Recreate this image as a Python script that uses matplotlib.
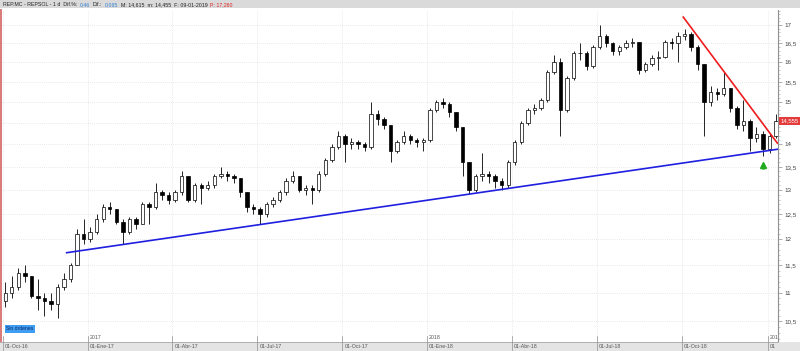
import matplotlib.pyplot as plt
import matplotlib.ticker as mticker
import matplotlib.transforms as mtransforms
from matplotlib.patches import Rectangle
import numpy as np
import pandas as pd

# weekly candles REP.MC
first_open = 10.85
weeks_close = [11.00, 11.10, 11.35, 11.30, 10.95, 10.90, 10.85, 10.80, 11.10, 11.25,
               11.50, 12.10, 12.00, 12.15, 12.40, 12.65, 12.60, 12.35, 12.15, 12.40,
               12.30, 12.70, 12.65, 12.95, 12.90, 12.80, 12.95, 13.30, 12.80, 13.10,
               13.05, 13.10, 13.30, 13.35, 13.30, 13.25, 12.95, 12.65, 12.60, 12.50,
               12.70, 12.80, 12.95, 13.20, 13.30, 13.00, 13.05, 13.00, 13.35, 13.65,
               13.95, 14.20, 14.00, 14.05, 14.00, 13.95, 14.70, 14.60, 14.45, 13.85,
               14.05, 14.20, 14.10, 14.05, 14.10, 14.80, 15.00, 14.95, 14.75, 14.40,
               13.60, 13.00, 13.30, 13.35, 13.30, 13.20, 13.10, 13.60, 14.05, 14.50,
               14.80, 14.85, 15.05, 15.75, 16.00, 14.80, 15.60, 16.25, 16.25, 15.90,
               16.40, 16.70, 16.50, 16.30, 16.40, 16.50, 16.55, 15.80, 15.95, 16.10,
               16.15, 16.55, 16.50, 16.70, 16.75, 16.40, 15.95, 15.00, 15.25, 15.20,
               15.35, 14.85, 14.45, 14.55, 14.15, 14.25, 13.90, 14.20, 14.555]
weeks_high = [11.20, 11.30, 11.45, 11.50, 11.30, 11.25, 11.00, 11.00, 11.15, 11.35,
              11.55, 12.20, 12.40, 12.25, 12.50, 12.70, 12.75, 12.60, 12.40, 12.45,
              12.45, 12.75, 12.75, 13.15, 13.00, 12.95, 13.00, 13.40, 13.30, 13.15,
              13.15, 13.20, 13.35, 13.50, 13.40, 13.35, 13.25, 12.95, 12.70, 12.65,
              12.75, 12.85, 13.00, 13.25, 13.40, 13.30, 13.10, 13.10, 13.40, 13.70,
              14.00, 14.30, 14.25, 14.15, 14.10, 14.05, 15.00, 14.80, 14.65, 14.45,
              14.10, 14.30, 14.25, 14.15, 14.15, 14.85, 15.05, 15.10, 15.00, 14.75,
              14.40, 13.60, 13.35, 13.80, 13.40, 13.35, 13.25, 13.65, 14.10, 14.55,
              14.85, 14.95, 15.10, 15.80, 16.20, 16.10, 15.65, 16.30, 16.50, 16.30,
              16.45, 17.00, 16.75, 16.55, 16.45, 16.60, 16.65, 16.55, 16.00, 16.20,
              16.30, 16.60, 16.65, 16.80, 16.90, 16.80, 16.45, 15.95, 15.40, 15.35,
              15.75, 15.35, 14.90, 15.05, 14.60, 14.40, 14.30, 14.25, 14.70]
weeks_low = [10.75, 10.90, 11.05, 11.20, 10.90, 10.70, 10.60, 10.70, 10.55, 11.05,
             11.20, 11.50, 11.90, 11.95, 12.10, 12.35, 12.50, 12.30, 11.90, 12.10,
             12.20, 12.30, 12.30, 12.60, 12.80, 12.70, 12.75, 12.90, 12.75, 12.75,
             12.70, 13.00, 13.05, 13.25, 13.20, 13.15, 12.85, 12.55, 12.50, 12.30,
             12.45, 12.65, 12.75, 12.90, 13.15, 12.95, 12.90, 12.70, 12.95, 13.30,
             13.60, 13.90, 13.60, 13.90, 13.90, 13.85, 13.90, 14.45, 14.35, 13.60,
             13.80, 14.00, 14.00, 13.95, 13.85, 14.05, 14.75, 14.85, 14.65, 14.30,
             13.30, 12.92, 12.95, 13.20, 13.15, 13.05, 13.00, 13.05, 13.55, 14.00,
             14.45, 14.70, 14.80, 15.00, 15.70, 14.20, 14.75, 15.55, 16.05, 15.80,
             15.85, 16.35, 16.40, 16.20, 16.20, 16.35, 16.40, 15.70, 15.75, 15.90,
             15.80, 16.10, 16.35, 16.00, 16.60, 16.30, 15.80, 14.20, 14.90, 15.05,
             15.15, 14.75, 14.35, 14.30, 13.85, 14.05, 13.75, 13.80, 14.15]

quarter_dates = ["2016-10-03", "2017-01-02", "2017-04-03", "2017-07-03", "2017-10-02",
                 "2018-01-01", "2018-04-02", "2018-07-02", "2018-10-01", "2019-01-01"]
quarter_labels = ["01-Oct-16", "01-Ene-17", "01-Abr-17", "01-Jul-17", "01-Oct-17",
                  "01-Ene-18", "01-Abr-18", "01-Jul-18", "01-Oct-18", "01"]
year_labels = ["2017", "2018", "201"]
year_dates = ["2017-01-02", "2018-01-01", "2019-01-01"]
y_ticks = [10.5, 11, 11.5, 12, 12.5, 13, 13.5, 14, 14.5, 15, 15.5, 16, 16.5, 17, 17.5]

# trend lines (date, price)
blue_dates, blue_prices = ["2016-12-09", "2019-01-10"], [11.74, 13.89]
red_dates, red_prices = ["2018-10-02", "2019-01-10"], [17.22, 14.03]
last_price = "14,555"
signal_price = 13.55

days = pd.bdate_range("2016-10-03", "2019-01-15")


def day_pos(d):
    return days.searchsorted(pd.Timestamp(d))


def price_fmt(v, p):
    # the 14,5 label sits under the last-price box
    if abs(v - 14.5) < 1e-6:
        return ""
    return f"{v:g}".replace(".", ",")


W, H = 800, 351
fig = plt.figure(figsize=(8, 3.51), dpi=100)
fig.patch.set_facecolor("white")
ax = fig.add_axes([2 / W, 10 / H, 776 / W, 331 / H])
ax.set_yscale("log")
ax.set_ylim(10.17, 17.42)
ax.set_xlim(-0.5, 593.5)

# grid
for yt in y_ticks:
    ax.axhline(yt, color="#d6d6d6", lw=0.5, ls=(0, (1, 2)), zorder=0)
for d in quarter_dates:
    ax.axvline(day_pos(d), color="#d6d6d6", lw=0.5, ls=(0, (1, 2)), zorder=0)

# candles
closes = np.array(weeks_close)
opens = np.array([first_open] + weeks_close[:-1])
pos = np.arange(len(closes)) * 5 + 2
ax.vlines(pos, weeks_low, weeks_high, color="black", lw=0.6, zorder=2)
up = closes >= opens
ax.bar(pos[up], (closes - opens)[up], bottom=opens[up], width=2.6,
       facecolor="white", edgecolor="black", lw=0.5, zorder=3)
ax.bar(pos[~up], (opens - closes)[~up], bottom=closes[~up], width=2.6,
       facecolor="black", edgecolor="black", lw=0.5, zorder=3)

# trend lines
ax.plot([day_pos(d) for d in blue_dates], blue_prices, color="#1f1fe0", lw=1.2, zorder=4)
ax.plot([day_pos(d) for d in red_dates], red_prices, color="#ee1c1c", lw=1.2, zorder=4)

# buy signal arrow
sx = pos[116]
ax.vlines(sx, signal_price - 0.09, signal_price - 0.01, color="#1faa1f", lw=2.2, zorder=5)
ax.plot(sx, signal_price, marker="^", color="#1faa1f", ms=4.5, zorder=5)

# right price axis
for s in ["top", "left", "bottom"]:
    ax.spines[s].set_visible(False)
ax.spines["right"].set_color("#909090")
ax.spines["right"].set_linewidth(0.8)
ax.yaxis.tick_right()
ax.yaxis.set_major_locator(mticker.FixedLocator(y_ticks))
ax.yaxis.set_major_formatter(mticker.FuncFormatter(price_fmt))
ax.yaxis.set_minor_locator(mticker.FixedLocator(np.arange(102, 175) / 10))
ax.yaxis.set_minor_formatter(mticker.NullFormatter())
ax.tick_params(axis="y", which="major", labelsize=4.5, labelcolor="#444444",
               color="#909090", length=3, width=0.5, pad=1.5)
ax.tick_params(axis="y", which="minor", color="#a0a0a0", length=1.5, width=0.4)
ax.set_xticks([])
for lab in ax.get_yticklabels():
    lab.set_family("Liberation Sans")

ax.text(1.003, 14.555, last_price, transform=mtransforms.blended_transform_factory(ax.transAxes, ax.transData),
        fontsize=4.3, color="white", va="center", ha="left", family="Liberation Sans",
        bbox=dict(boxstyle="square,pad=0.25", facecolor="#e43a3a", edgecolor="none"), zorder=6)

# bottom date bar
fig.add_artist(Rectangle((0, 0), 1, 9 / H, transform=fig.transFigure,
                         facecolor="#e4e4e4", edgecolor="none"))
fig.add_artist(plt.Line2D([0, 778 / W], [9 / H, 9 / H], transform=fig.transFigure,
                          color="#a8a8a8", lw=0.6))
bt = mtransforms.blended_transform_factory(ax.transData, fig.transFigure)
for d, lab in zip(quarter_dates, quarter_labels):
    x = day_pos(d)
    fig.add_artist(plt.Line2D([x, x], [0, 15 / H], transform=bt, color="#909090", lw=0.5))
    fig.text(x + 1.5, 4.5 / H, lab, transform=bt, fontsize=3.8, color="#555555",
             va="center", ha="left", family="Liberation Sans")
for d, lab in zip(year_dates, year_labels):
    fig.text(day_pos(d) + 1.5, 13.5 / H, lab, transform=bt, fontsize=3.8, color="#555555",
             va="center", ha="left", family="Liberation Sans")

# left red border
fig.add_artist(Rectangle((0, 9 / H), 2 / W, 333 / H, transform=fig.transFigure,
                         facecolor="#d87c7c", edgecolor="none"))

# "Sin órdenes" tag
fig.text(6 / W, (351 - 329) / H, "Sin órdenes", fontsize=3.6, color="#0b2a66",
         va="center", ha="left", family="Liberation Sans",
         bbox=dict(boxstyle="square,pad=0.3", facecolor="#3f9df2", edgecolor="none"))

# header bar
fig.add_artist(Rectangle((0, 1 - 8 / H), 1, 8 / H, transform=fig.transFigure,
                         facecolor="#dadada", edgecolor="none"))
header_parts = [("REP.MC - REPSOL - 1 d  Dif.%:", "#222222"), ("0,46", "#2f7fd6"),
                ("Dif.:", "#222222"), ("0,065", "#2f7fd6"),
                ("M: 14,615  m: 14,455  F: 09-01-2019", "#222222"), ("P: 17,260", "#e02020")]
fig.canvas.draw()
renderer = fig.canvas.get_renderer()
hx = 3 / W
for s, c in header_parts:
    t = fig.text(hx, 1 - 4.5 / H, s, color=c, fontsize=3.8, va="center", ha="left",
                 family="Liberation Sans")
    bb = t.get_window_extent(renderer=renderer)
    hx = bb.x1 / W + 2.5 / W

fig.savefig("out.png", dpi=100)
